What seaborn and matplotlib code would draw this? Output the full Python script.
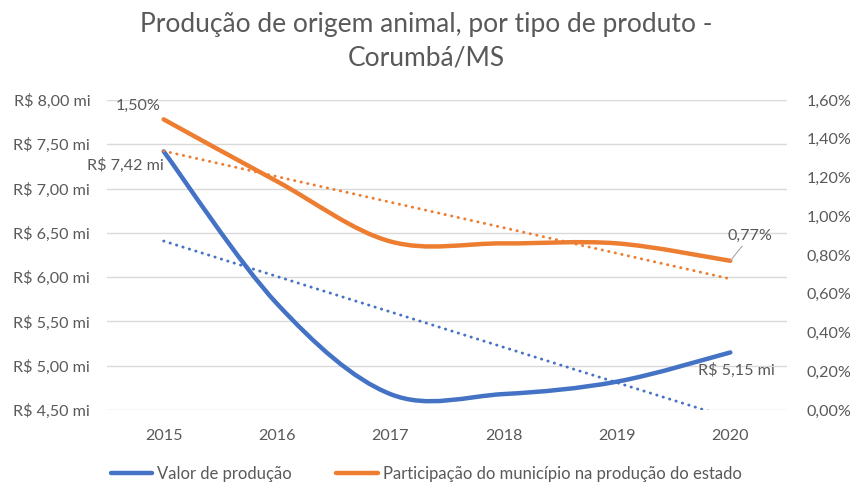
import numpy as np
import pandas as pd
import matplotlib.pyplot as plt
import seaborn as sns
from matplotlib.path import Path
from matplotlib.patches import PathPatch
from matplotlib.lines import Line2D

# --- dados ---
anos = [2015, 2016, 2017, 2018, 2019, 2020]
valor_producao = [7.42, 5.70, 4.68, 4.68, 4.82, 5.15]   # R$ milhões
participacao = [1.50, 1.18, 0.87, 0.86, 0.86, 0.77]     # % do estado

titulo = "Produção de origem animal, por tipo de produto -\nCorumbá/MS"
nome_valor = "Valor de produção"
nome_part = "Participação do município na produção do estado"

AZUL = "#4472C4"
LARANJA = "#ED7D31"
CINZA = "#595959"
GRADE = "#D9D9D9"

sns.set_theme(style="white")
plt.rcParams["font.family"] = ["Lato", "DejaVu Sans"]


def curva_suave(x, y):
    # bezier segments, like the "smoothed line" option in Excel
    pts = np.column_stack([x, y]).astype(float)
    ext = np.vstack([pts[0], pts, pts[-1]])
    verts, codes = [pts[0]], [Path.MOVETO]
    for i in range(len(pts) - 1):
        p0, p1, p2, p3 = ext[i], ext[i + 1], ext[i + 2], ext[i + 3]
        verts += [p1 + (p2 - p0) / 6, p2 - (p3 - p1) / 6, p2]
        codes += [Path.CURVE4] * 3
    return Path(verts, codes)


df = pd.DataFrame({"ano": anos, "valor": valor_producao, "part": participacao})

fig = plt.figure(figsize=(8.52, 4.86), dpi=100)
ax = fig.add_axes([107 / 852, 1 - 410 / 486, 680 / 852, 310 / 486])
ax2 = ax.twinx()

# linhas de tendência (pontilhadas)
pontilhado = dict(lw=2.1, ls=(0, (0.1, 2.2)), dash_capstyle="round")
sns.regplot(data=df, x="ano", y="valor", ax=ax, scatter=False, ci=None,
            line_kws=dict(color=AZUL, **pontilhado))
sns.regplot(data=df, x="ano", y="part", ax=ax2, scatter=False, ci=None,
            line_kws=dict(color=LARANJA, **pontilhado))

# séries suavizadas
ax.add_patch(PathPatch(curva_suave(df["ano"], df["valor"]), fill=False,
                       edgecolor=AZUL, lw=3.2, capstyle="round", joinstyle="round"))
ax2.add_patch(PathPatch(curva_suave(df["ano"], df["part"]), fill=False,
                        edgecolor=LARANJA, lw=3.2, capstyle="round", joinstyle="round"))

ax.set_xlim(2014.5, 2020.5)
ax.set_ylim(4.5, 8.0)
ax2.set_ylim(0, 1.6)

ax.set_xticks(anos)
ax.set_xticklabels([str(a) for a in anos])
yt = np.arange(4.5, 8.01, 0.5)
ax.set_yticks(yt)
ax.set_yticklabels([f"R$ {v:.2f} mi".replace(".", ",") for v in yt])
yt2 = np.arange(0, 1.61, 0.2)
ax2.set_yticks(yt2)
ax2.set_yticklabels([f"{v:.2f}%".replace(".", ",") for v in yt2])

for a in (ax, ax2):
    a.set_xlabel("")
    a.set_ylabel("")
    for s in a.spines.values():
        s.set_visible(False)
    a.tick_params(length=0, labelsize=11.6, labelcolor=CINZA)
ax.tick_params(axis="y", pad=12)
ax.tick_params(axis="x", pad=14)
ax2.tick_params(axis="y", pad=14)
ax.yaxis.grid(True, color=GRADE, lw=1)
ax.xaxis.grid(False)
ax2.grid(False)

# rótulos de dados
rot = dict(textcoords="offset pixels", fontsize=11.6, color=CINZA)
ax2.annotate(f"{participacao[0]:.2f}%".replace(".", ","), (anos[0], participacao[0]),
             xytext=(-3, 6), ha="right", va="bottom", **rot)
ax.annotate(f"R$ {valor_producao[0]:.2f} mi".replace(".", ","), (anos[0], valor_producao[0]),
            xytext=(0, -6), ha="right", va="top", **rot)
ax2.annotate(f"{participacao[-1]:.2f}%".replace(".", ","), (anos[-1], participacao[-1]),
             xytext=(20, 18), ha="center", va="bottom",
             arrowprops=dict(arrowstyle="-", color="#A6A6A6", lw=0.8, shrinkA=0, shrinkB=0), **rot)
ax.annotate(f"R$ {valor_producao[-1]:.2f} mi".replace(".", ","), (anos[-1], valor_producao[-1]),
            xytext=(6, -10), ha="center", va="top", **rot)

fig.text(0.5, 1 - 41 / 486, titulo, ha="center", va="center", fontsize=19,
         color=CINZA, linespacing=1.42)

handles = [Line2D([], [], color=AZUL, lw=3.2), Line2D([], [], color=LARANJA, lw=3.2)]
fig.legend(handles, [nome_valor, nome_part], loc="center", bbox_to_anchor=(0.5, 1 - 474 / 486),
           ncol=2, frameon=False, fontsize=12, labelcolor=CINZA, handlelength=2.5,
           handletextpad=0.27, columnspacing=2.7)

fig.savefig("out.png", dpi=100)
